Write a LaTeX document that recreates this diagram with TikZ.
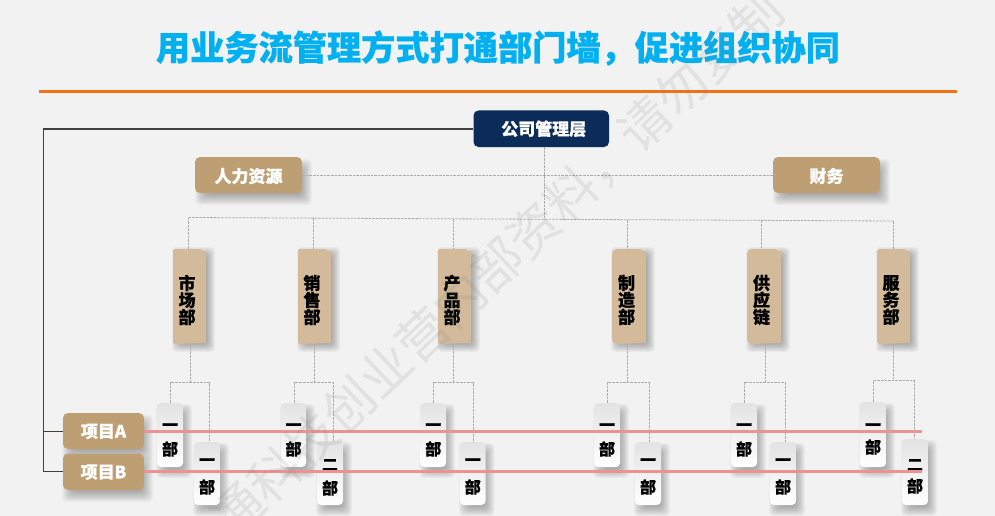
\documentclass[tikz,border=0pt]{standalone}
\usepackage{fontspec}
\setmainfont{Noto Sans CJK SC}[BoldFeatures={FakeBold=0.6}]
\usetikzlibrary{calc}
\definecolor{pagebg}{HTML}{F2F2F2}
\definecolor{titleblue}{HTML}{00B0F0}
\definecolor{orangeline}{HTML}{F47216}
\definecolor{navy}{HTML}{0B2C58}
\definecolor{tanbox}{HTML}{BE9F73}
\definecolor{deptbox}{HTML}{D2BA9A}
\definecolor{redline}{HTML}{EB9292}
\definecolor{dashgray}{HTML}{ABABAB}
\definecolor{darkline}{HTML}{404040}
\newcommand{\softshadow}[7]{% x1 y1 x2 y2 dx dy strength
  \foreach \i in {0,1,...,11}{
    \fill[black,fill opacity=#7,rounded corners=4pt]
      ({#1+#5+6-\i},{#2+#6+6-\i}) rectangle ({#3+#5-6+\i},{#4+#6-6+\i});
  }%
}
\newcommand{\deptitem}[7]{% name x1 x2 radius c1 c2 c3
  \softshadow{#2}{249}{#3}{344}{4}{3}{0.035}
  \fill[deptbox] ({#2+#4},249) -- ({#3-5},249) -- ({#3-4},251) -- (#3,251) -- (#3,343)
     -- ({#2+#4},344) arc[start angle=270,end angle=180,radius=#4pt]
     -- (#2,{249+#4}) arc[start angle=180,end angle=90,radius=#4pt] -- cycle;
  \node[deptnode,minimum width={(#3-#2)*1pt},
    label={[depttext]center:#5\\#6\\#7}] (#1) at ({(#2+#3)/2},296.5) {};
}
\newcommand{\subunit}[8]{% name x1 x2 y1 y2 text upper-offset lower-offset
  \softshadow{#2}{#4}{#3}{#5}{4}{6}{0.032}
  \node[subnode,minimum width={(#3-#2)*1pt},minimum height={(#5-#4)*1pt},
    label={[subtext,yshift=#7pt]center:#6},
    label={[subtext,yshift=#8pt]center:部}] (#1)
    at ({(#2+#3)/2},{(#4+#5)/2}) {};
}
\tikzset{
  deptnode/.style={inner sep=0pt,minimum height=95pt},
  depttext/.style={align=center,inner sep=0pt,text=black,xshift=-2.5pt,yshift=-3.5pt,
     font=\fontsize{17}{17}\selectfont\bfseries},
  subnode/.style={inner sep=0pt,rounded corners=4pt,top color=black!11,bottom color=white},
  subtext/.style={inner sep=0pt,text=black,font=\fontsize{16}{16}\selectfont\bfseries},
  lead/.style={draw=dashgray,line width=0.8pt,dash pattern=on 2.6pt off 1pt},
  tanlabel/.style={fill=tanbox,rounded corners=5pt,inner sep=0pt,text=white,
     text height=13pt,text depth=0pt,font=\fontsize{17}{17}\selectfont\bfseries},
  navylabel/.style={fill=navy,rounded corners=5pt,inner sep=0pt,text=white,
     text height=13pt,text depth=0pt,font=\fontsize{17}{17}\selectfont\bfseries},
  solidlink/.style={draw=darkline,line width=1pt},
  project/.style={draw=redline,line width=3.3pt},
}
\begin{document}
\begin{tikzpicture}[x=1pt,y=-1pt]
\useasboundingbox (0,0) rectangle (995,516);
\fill[pagebg] (0,0) rectangle (995,516);

\node[inner sep=0pt,text=titleblue,font=\fontsize{34.2}{34}\selectfont\bfseries] (title) at (498,48)
  {用业务流管理方式打通部门墙，促进组织协同};
\coordinate (ruleL) at (39,92);
\coordinate (ruleR) at (957,92);
\draw[orangeline,line width=3pt] (ruleL) -- (ruleR);

% top boxes
\node[navylabel,minimum width=135.5pt,minimum height=36.5pt] (mgmt) at (541.25,128.75) {\hspace*{5pt}公司管理层};
\softshadow{195}{157}{302}{193}{5}{7}{0.028}
\node[tanlabel,text height=15pt,minimum width=107pt,minimum height=36pt] (hr) at (248.5,175) {人力资源};
\softshadow{773}{157}{880}{193}{5}{7}{0.028}
\node[tanlabel,text height=15pt,minimum width=107pt,minimum height=36pt] (fin) at (826.5,175) {财务};

% departments
\deptitem{d1}{173}{206}{2}{市}{场}{部}
\deptitem{d2}{298}{331}{2}{销}{售}{部}
\deptitem{d3}{438}{471}{2}{产}{品}{部}
\deptitem{d4}{612}{646}{5}{制}{造}{部}
\deptitem{d5}{747}{781}{5}{供}{应}{链}
\deptitem{d6}{877}{910}{3}{服}{务}{部}

% sub units
\subunit{s1a}{157}{183}{403}{467}{一}{8}{-14}
\subunit{s1b}{194}{220}{442}{505}{一}{11.5}{-13.5}
\subunit{s2a}{281}{306}{403}{467}{一}{8}{-14}
\subunit{s2b}{317}{343}{441}{505}{二}{8}{-15}
\subunit{s3a}{420.5}{446}{403}{467}{一}{8}{-14}
\subunit{s3b}{460}{485.5}{442}{505}{一}{11.5}{-13.5}
\subunit{s4a}{594}{620}{403}{467}{一}{8}{-14}
\subunit{s4b}{635}{661}{442}{505}{一}{11.5}{-13.5}
\subunit{s5a}{731}{757}{403}{467}{一}{8}{-14}
\subunit{s5b}{770}{796}{442}{505}{一}{11.5}{-13.5}
\subunit{s6a}{860}{886}{402}{467}{一}{7.5}{-12.5}
\subunit{s6b}{902}{928}{439}{505}{二}{7}{-14}

% company -> functions and departments
\coordinate (busL) at (188.5,217.5);
\coordinate (busR) at (893,221);
\coordinate (busM) at (544,219.3);
\draw[lead] (hr.east) -- (fin.west);
\draw[lead] (mgmt.south -| busM) -- (busM);
\draw[lead] (busL) -- (busR);
\foreach \d/\x/\y in {d1/188.5/217.5,d2/313.5/218.1,d3/453.5/219,d4/627.5/219.9,d5/761/220.4,d6/893/221}{
  \coordinate (tap) at (\x,\y);
  \draw[lead] (tap) -- (\d.north -| tap);
}

% departments -> sub units
\foreach \d/\a/\b/\xc/\xl/\xr/\yj in {
  d1/s1a/s1b/190.5/170/209/382.5,
  d2/s2a/s2b/314.5/294.5/333/382.5,
  d3/s3a/s3b/453.5/433.5/473/382.5,
  d4/s4a/s4b/627/607.5/649/382.5,
  d5/s5a/s5b/765/744/785/382.5,
  d6/s6a/s6b/893.5/873.5/914/380.5}{
  \coordinate (jc) at (\xc,\yj);
  \coordinate (jl) at (\xl,\yj);
  \coordinate (jr) at (\xr,\yj);
  \draw[lead] (\d.south -| jc) -- (jc);
  \draw[lead] (\a.north -| jl) -- (jl) -- (jr) -- (\b.north -| jr);
}

% projects
\softshadow{63}{413}{144}{449}{4}{7}{0.028}
\softshadow{63}{453.5}{144}{490}{4}{7}{0.028}
\node[tanlabel,minimum width=81pt,minimum height=36pt] (pa) at (103.5,431) {项目A};
\node[tanlabel,minimum width=81pt,minimum height=36.5pt] (pb) at (103.5,471.75) {项目B};
\coordinate (corner) at (43.5,129);
\coordinate (branch) at (43.5,431);
\draw[solidlink] (mgmt.west |- corner) -- (corner) |- (pb.west);
\draw[solidlink] (branch) -- (pa.west);
\coordinate (endA) at (922,431.5);
\coordinate (endB) at (922,471.5);
\draw[project] (pa.east |- endA) -- (endA);
\draw[project] (pb.east |- endB) -- (endB);

% watermark
\begin{scope}
\clip (0,0) rectangle (995,516);
\node[rotate=43.5,inner sep=0pt,text=black!50,text opacity=0.15,font=\fontsize{51}{51}\selectfont] (mark) at (497,265)
  {通科技创业营内部资料，请勿复制};
\end{scope}
\end{tikzpicture}
\end{document}
